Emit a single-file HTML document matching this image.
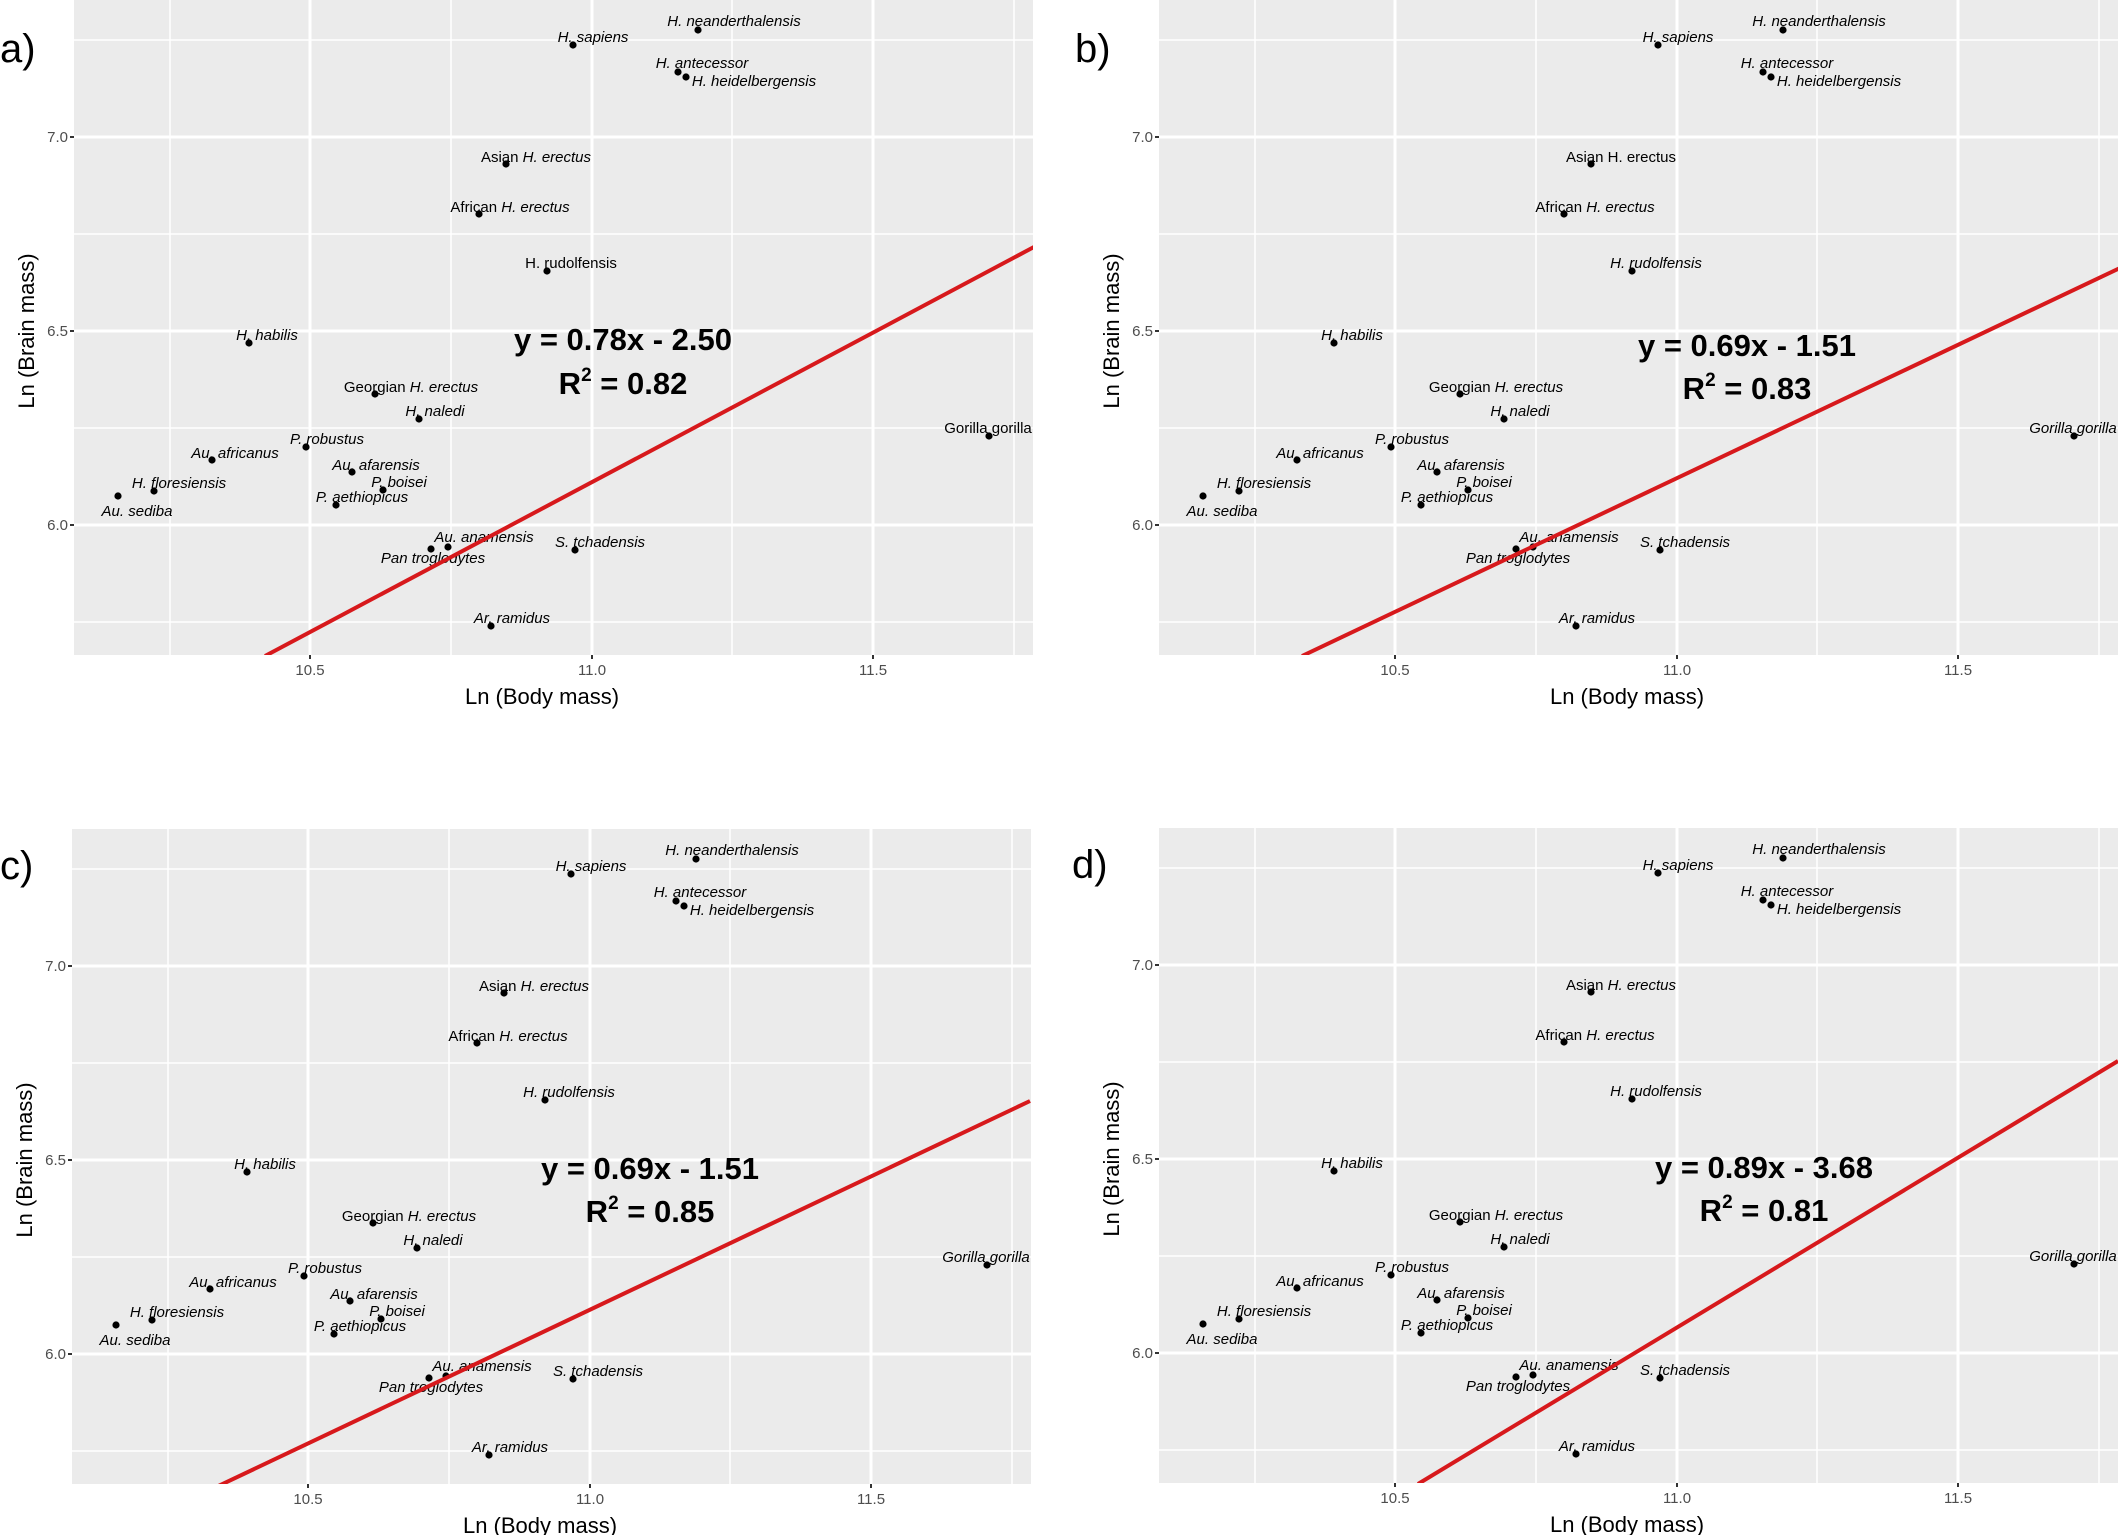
<!DOCTYPE html>
<html><head><meta charset="utf-8"><style>
html,body{margin:0;padding:0;background:#fff;}
svg{display:block;}
.lab{font-family:"Liberation Sans",sans-serif;font-size:15px;fill:#000;text-anchor:middle;}
.i{font-style:italic;}
.tk{font-family:"Liberation Sans",sans-serif;font-size:15px;fill:#4d4d4d;}
.at{font-family:"Liberation Sans",sans-serif;font-size:22px;fill:#000;text-anchor:middle;}
.eq{font-family:"Liberation Sans",sans-serif;font-size:31px;font-weight:bold;fill:#000;text-anchor:middle;}
.pl{font-family:"Liberation Sans",sans-serif;font-size:40px;fill:#000;}
</style></head><body>
<svg width="2120" height="1535" viewBox="0 0 2120 1535" xmlns="http://www.w3.org/2000/svg">
<defs>
<clipPath id="cp"><rect x="74" y="0" width="959" height="655"/></clipPath>
<g id="frame">
<rect x="74" y="0" width="959" height="655" fill="#ebebeb"/>
<g stroke="#fff" stroke-width="1.5">
<line x1="170" y1="0" x2="170" y2="655"/><line x1="451" y1="0" x2="451" y2="655"/>
<line x1="732" y1="0" x2="732" y2="655"/><line x1="1014" y1="0" x2="1014" y2="655"/>
<line x1="74" y1="622" x2="1033" y2="622"/><line x1="74" y1="428" x2="1033" y2="428"/>
<line x1="74" y1="234" x2="1033" y2="234"/><line x1="74" y1="40" x2="1033" y2="40"/>
</g>
<g stroke="#fff" stroke-width="3">
<line x1="310" y1="0" x2="310" y2="655"/><line x1="592" y1="0" x2="592" y2="655"/>
<line x1="873" y1="0" x2="873" y2="655"/>
<line x1="74" y1="525" x2="1033" y2="525"/><line x1="74" y1="331" x2="1033" y2="331"/>
<line x1="74" y1="137" x2="1033" y2="137"/>
</g>
<g stroke="#333" stroke-width="2">
<line x1="70" y1="525" x2="74" y2="525"/><line x1="70" y1="331" x2="74" y2="331"/><line x1="70" y1="137" x2="74" y2="137"/>
<line x1="310" y1="655" x2="310" y2="659"/><line x1="592" y1="655" x2="592" y2="659"/><line x1="873" y1="655" x2="873" y2="659"/>
</g>
<g class="tk" text-anchor="end">
<text x="68" y="530">6.0</text><text x="68" y="336">6.5</text><text x="68" y="142">7.0</text>
</g>
<g class="tk" text-anchor="middle">
<text x="310" y="675">10.5</text><text x="592" y="675">11.0</text><text x="873" y="675">11.5</text>
</g>
<text class="at" x="542" y="704">Ln (Body mass)</text>
<text class="at" transform="translate(34,331) rotate(-90)">Ln (Brain mass)</text>
<g fill="#000">
<circle cx="698" cy="30" r="3.6"/><circle cx="573" cy="45" r="3.6"/><circle cx="678" cy="72" r="3.6"/>
<circle cx="686" cy="77" r="3.6"/><circle cx="506" cy="164" r="3.6"/><circle cx="479" cy="214" r="3.6"/>
<circle cx="547" cy="271" r="3.6"/><circle cx="249" cy="343" r="3.6"/><circle cx="375" cy="394" r="3.6"/>
<circle cx="419" cy="419" r="3.6"/><circle cx="989" cy="436" r="3.6"/><circle cx="306" cy="447" r="3.6"/>
<circle cx="212" cy="460" r="3.6"/><circle cx="352" cy="472" r="3.6"/><circle cx="383" cy="490" r="3.6"/>
<circle cx="154" cy="491" r="3.6"/><circle cx="118" cy="496" r="3.6"/><circle cx="336" cy="505" r="3.6"/>
<circle cx="448" cy="547" r="3.6"/><circle cx="431" cy="549" r="3.6"/><circle cx="575" cy="550" r="3.6"/>
<circle cx="491" cy="626" r="3.6"/>
</g>
<g class="lab">
<text class="i" x="734" y="26">H. neanderthalensis</text>
<text class="i" x="593" y="42">H. sapiens</text>
<text class="i" x="702" y="68">H. antecessor</text>
<text class="i" x="754" y="86">H. heidelbergensis</text>
<text x="510" y="212">African <tspan class="i">H. erectus</tspan></text>
<text class="i" x="267" y="340">H. habilis</text>
<text x="411" y="392">Georgian <tspan class="i">H. erectus</tspan></text>
<text class="i" x="435" y="416">H. naledi</text>
<text class="i" x="327" y="444">P. robustus</text>
<text class="i" x="235" y="458">Au. africanus</text>
<text class="i" x="376" y="470">Au. afarensis</text>
<text class="i" x="399" y="487">P. boisei</text>
<text class="i" x="179" y="488">H. floresiensis</text>
<text class="i" x="137" y="516">Au. sediba</text>
<text class="i" x="362" y="502">P. aethiopicus</text>
<text class="i" x="484" y="542">Au. anamensis</text>
<text class="i" x="433" y="563">Pan troglodytes</text>
<text class="i" x="600" y="547">S. tchadensis</text>
<text class="i" x="512" y="623">Ar. ramidus</text>
</g>
</g>
</defs>

<!-- panel a -->
<g>
<use href="#frame"/>
<g class="lab">
<text x="536" y="162">Asian <tspan class="i">H. erectus</tspan></text>
<text x="571" y="268">H. rudolfensis</text>
<text x="988" y="433">Gorilla gorilla</text>
</g>
<line x1="265" y1="656" x2="1034" y2="247" stroke="#d7191c" stroke-width="4" clip-path="url(#cp)"/>
<text class="eq" x="623" y="350">y = 0.78x - 2.50</text>
<text class="eq" x="623" y="394">R<tspan font-size="19" dy="-13">2</tspan><tspan dy="13"> = 0.82</tspan></text>
<text class="pl" x="0" y="62">a)</text>
</g>

<!-- panel b -->
<g transform="translate(1085,0)">
<use href="#frame"/>
<g class="lab">
<text x="536" y="162">Asian H. erectus</text>
<text class="i" x="571" y="268">H. rudolfensis</text>
<text class="i" x="988" y="433">Gorilla gorilla</text>
</g>
<line x1="217" y1="656" x2="1035" y2="268" stroke="#d7191c" stroke-width="4" clip-path="url(#cp)"/>
<text class="eq" x="662" y="356">y = 0.69x - 1.51</text>
<text class="eq" x="662" y="399">R<tspan font-size="19" dy="-13">2</tspan><tspan dy="13"> = 0.83</tspan></text>
<text class="pl" x="-10" y="62">b)</text>
</g>

<!-- panel c -->
<g transform="translate(-2,829)">
<use href="#frame"/>
<g class="lab">
<text x="536" y="162">Asian <tspan class="i">H. erectus</tspan></text>
<text class="i" x="571" y="268">H. rudolfensis</text>
<text class="i" x="988" y="433">Gorilla gorilla</text>
</g>
<line x1="214" y1="660" x2="1032" y2="272" stroke="#d7191c" stroke-width="4" clip-path="url(#cp)"/>
<text class="eq" x="652" y="350">y = 0.69x - 1.51</text>
<text class="eq" x="652" y="393">R<tspan font-size="19" dy="-13">2</tspan><tspan dy="13"> = 0.85</tspan></text>
<text class="pl" x="2" y="50">c)</text>
</g>

<!-- panel d -->
<g transform="translate(1085,828)">
<use href="#frame"/>
<g class="lab">
<text x="536" y="162">Asian <tspan class="i">H. erectus</tspan></text>
<text class="i" x="571" y="268">H. rudolfensis</text>
<text class="i" x="988" y="433">Gorilla gorilla</text>
</g>
<line x1="333" y1="656" x2="1033" y2="233" stroke="#d7191c" stroke-width="4" clip-path="url(#cp)"/>
<text class="eq" x="679" y="350">y = 0.89x - 3.68</text>
<text class="eq" x="679" y="393">R<tspan font-size="19" dy="-13">2</tspan><tspan dy="13"> = 0.81</tspan></text>
<text class="pl" x="-13" y="50">d)</text>
</g>
</svg>
</body></html>
